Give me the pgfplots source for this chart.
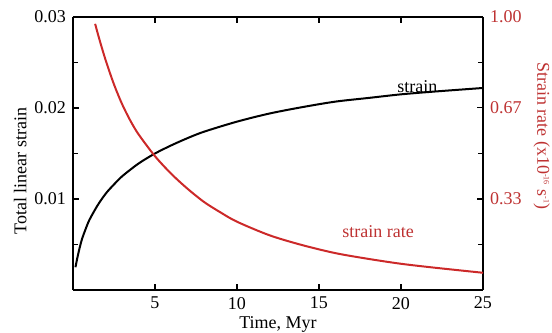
\documentclass[border=0pt]{standalone}
\usepackage{fontspec}
\setmainfont{Liberation Serif}
\usepackage{pgfplots}
\pgfplotsset{compat=1.18}
\definecolor{rred}{RGB}{204,41,41}
\definecolor{lred}{RGB}{190,50,50}
\begin{document}
\begin{tikzpicture}
\pgfplotsset{every axis/.append style={
  scale only axis, width=205pt, height=136.5pt,
  xmin=0, xmax=25,
  font=\fontsize{9}{10}\selectfont,
  /pgf/number format/assume math mode=true,
  axis line style={line width=0.7pt},
  tick style={line width=0.6pt, black},
  major tick length=3pt, minor tick length=2.5pt,
  tick align=inside,
}}
\begin{axis}[name=main,
  ymin=0, ymax=0.03,
  xtick={5,10,15,20,25},
  ytick={0.01,0.02,0.03}, yticklabels={0.01,0.02,0.03},
  minor ytick={0.005,0.015,0.025},
  scaled y ticks=false,
  axis y line*=left,
  xlabel={Time, Myr},
  ylabel={Total linear strain},
  xlabel style={at={(rel axis cs:0.5,-0.128)}, anchor=center},
  ylabel style={at={(rel axis cs:-0.129,0.436)}, anchor=center},
]
\addplot[black, line width=1pt, smooth] coordinates {
(0.15,0.0025) (0.25,0.0034) (0.4,0.0046) (0.55,0.0056) (0.75,0.0066)
(1.0,0.0077) (1.5,0.0093) (2.0,0.0106) (2.5,0.0116) (3.0,0.0125)
(4.0,0.0139) (5.0,0.0150) (6.0,0.0159) (7.0,0.0167) (8.0,0.0174)
(10,0.0185) (12,0.0194) (14,0.0201) (16,0.0207) (18,0.0211)
(20,0.0215) (22,0.0218) (25,0.0222)};
\node[anchor=center] at (axis cs:21.0,0.0224) {strain};
\end{axis}
\begin{axis}[
  ymin=0, ymax=1,
  axis y line*=right, axis x line=none,
  ytick={0.333,0.667,1.0}, yticklabels={0.33,0.67,1.00},
  minor ytick={0.1667,0.5,0.8333},
  yticklabel style={text=lred},
  ylabel={Strain rate (x10\raisebox{0.8ex}{\fontsize{4}{4}\selectfont -16} s\raisebox{0.8ex}{\fontsize{4}{4}\selectfont -1})},
  ylabel style={text=lred, rotate=180, at={(rel axis cs:1.143,0.565)}, anchor=center},
]
\addplot[rred, line width=1pt, smooth] coordinates {
(1.35,0.975) (1.6,0.92) (2.0,0.84) (2.5,0.753) (3.0,0.68) (3.5,0.62)
(4.0,0.57) (5.0,0.49) (6.0,0.425) (7.0,0.37) (8.0,0.322) (9.0,0.284)
(10,0.25) (12,0.20) (14,0.164) (16,0.135) (18,0.114) (20,0.096)
(22,0.082) (25,0.063)};
\node[text=lred, anchor=center] at (axis cs:18.6,0.215) {strain rate};
\end{axis}
\pgfresetboundingbox
\useasboundingbox (main.south west) ++(-36.5pt,-21.5pt) rectangle ([shift={(34.5pt,8.5pt)}]main.north east);
\end{tikzpicture}
\end{document}
